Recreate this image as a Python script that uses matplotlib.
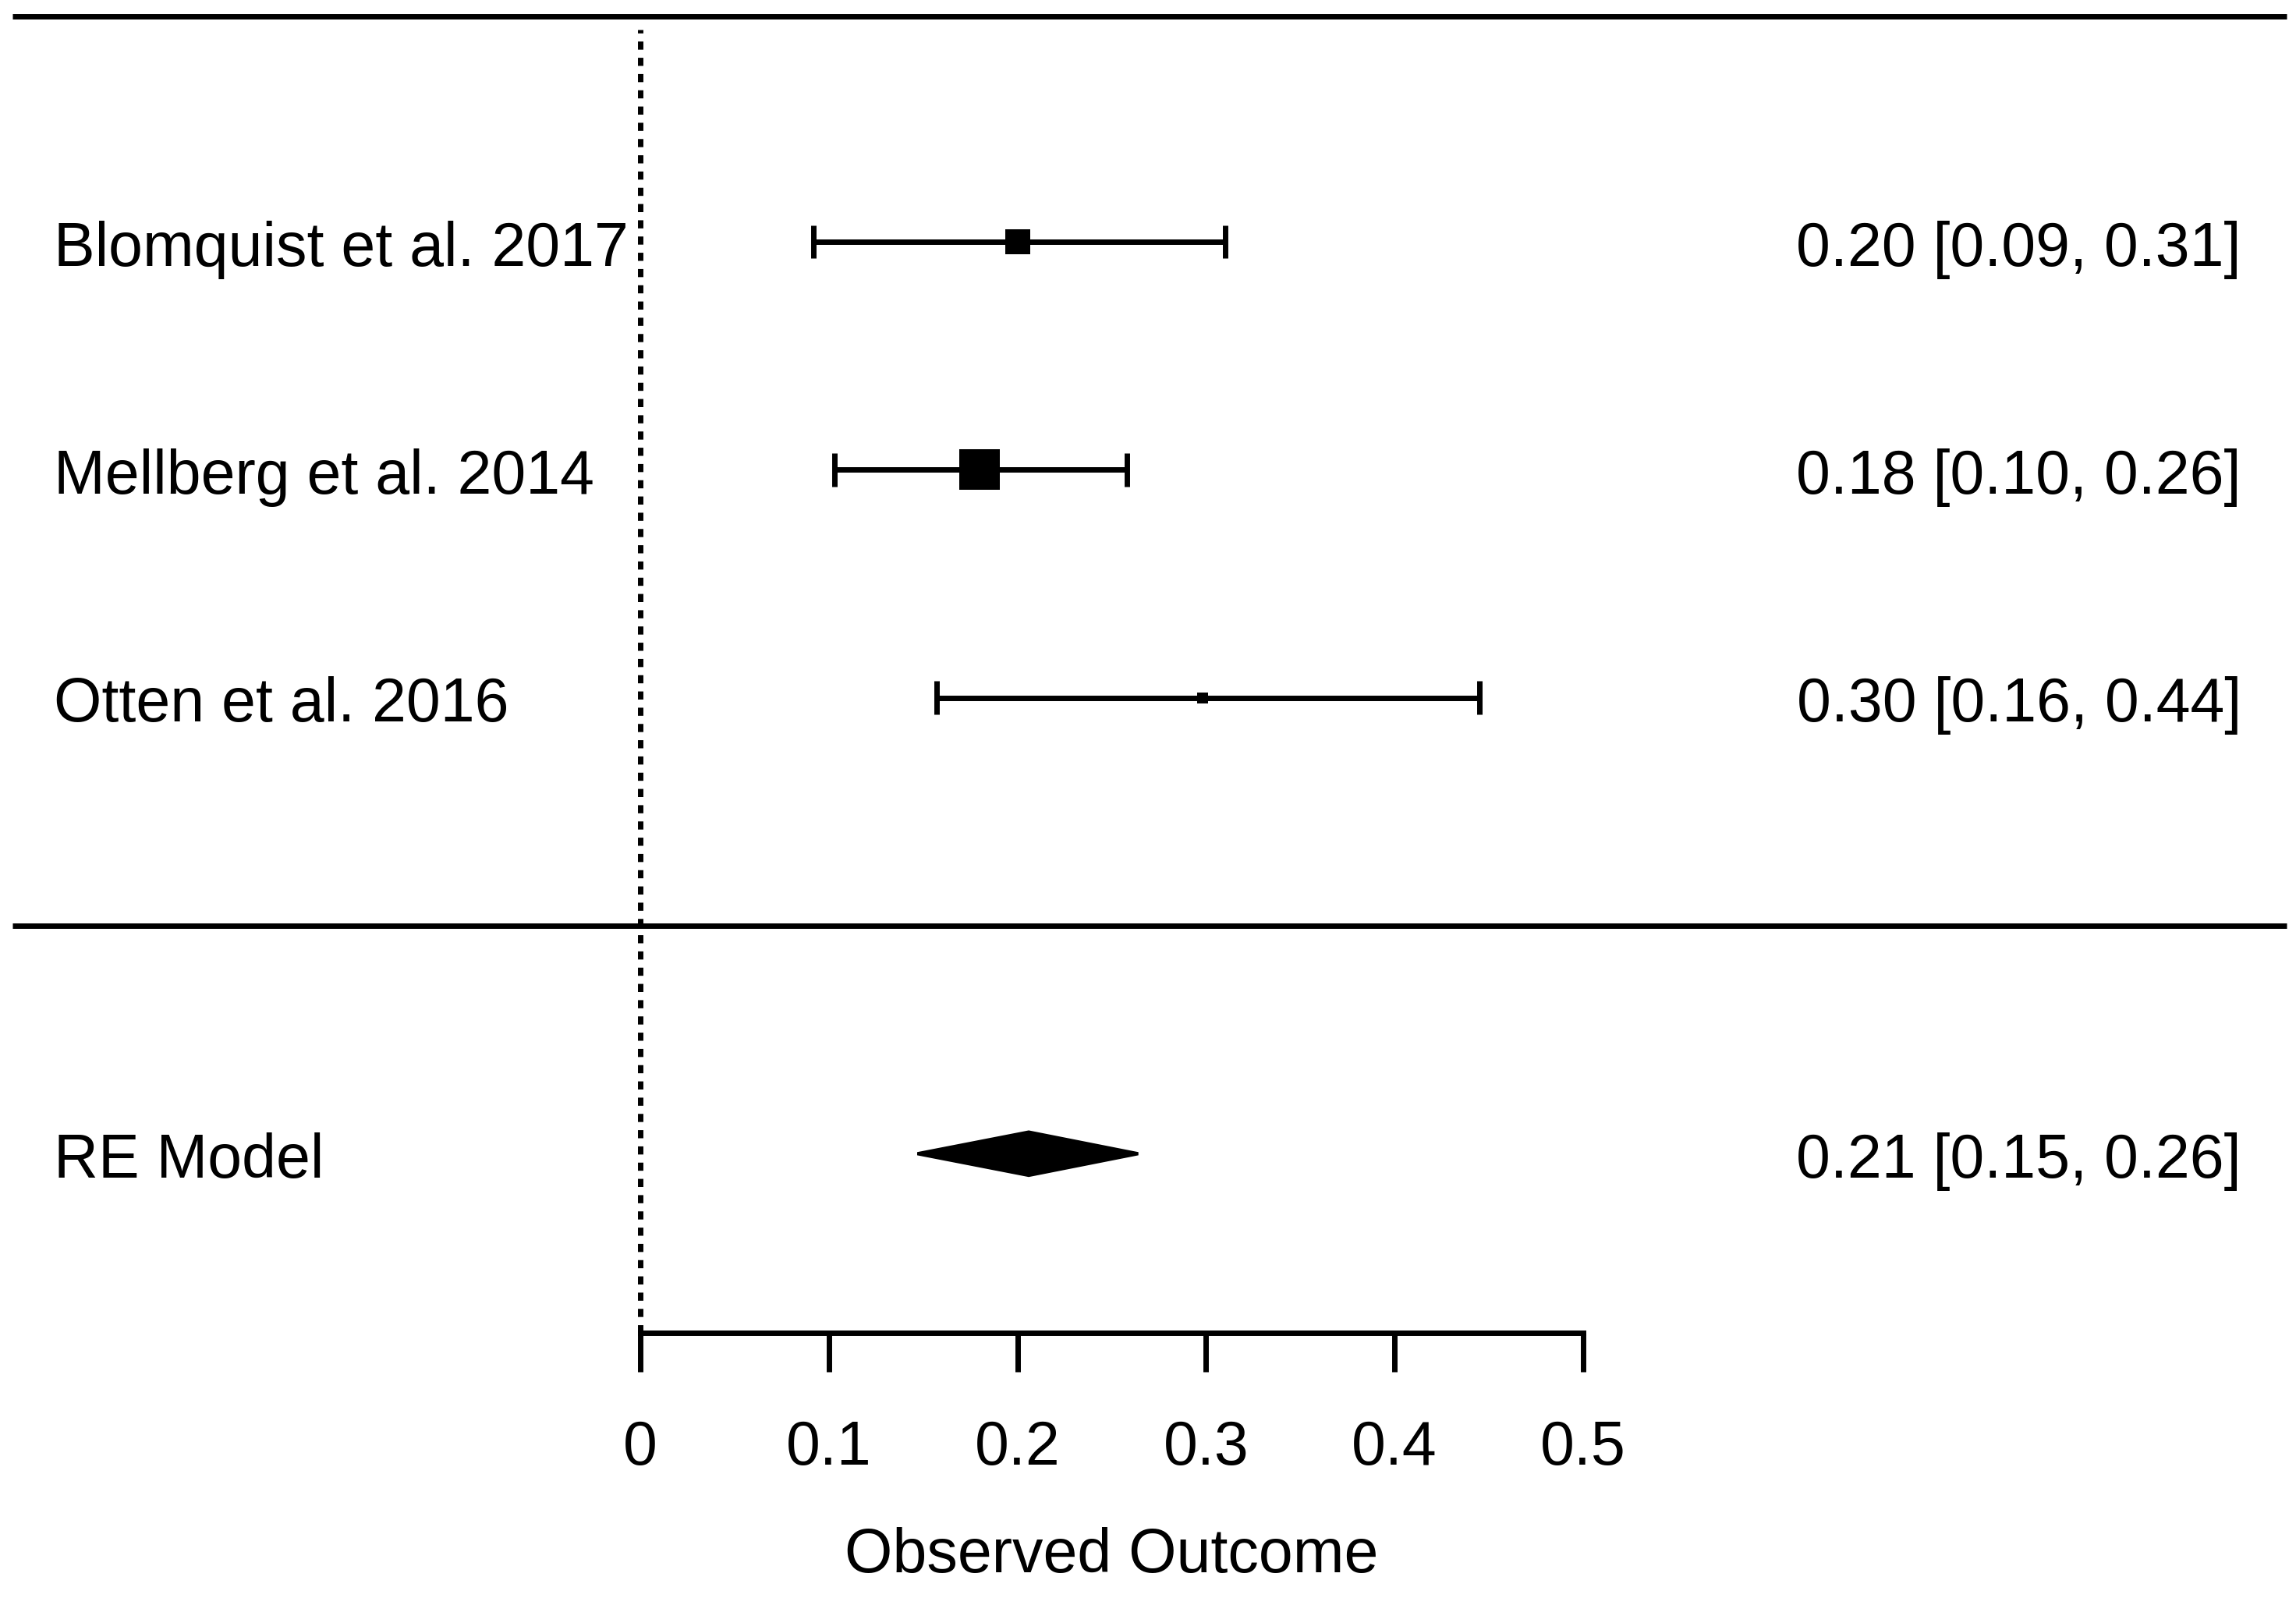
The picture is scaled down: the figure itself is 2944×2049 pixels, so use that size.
import matplotlib
matplotlib.use("Agg")
import matplotlib.pyplot as plt
from matplotlib.patches import Polygon

# ---- data ----
studies = ["Blomquist et al. 2017", "Mellberg et al. 2014", "Otten et al. 2016"]
rows = [3, 2, 1]
est = [0.200, 0.180, 0.298]
ci_lo = [0.092, 0.103, 0.157]
ci_hi = [0.310, 0.258, 0.4449]
marker_pt = [11.2, 18.4, 5.0]   # square size reflects study weight

re_label = "RE Model"
re_row = -1
re_est = 0.206
re_lo = 0.147
re_hi = 0.264

xticks = [0, 0.1, 0.2, 0.3, 0.4, 0.5]
xtick_labels = ["0", "0.1", "0.2", "0.3", "0.4", "0.5"]
xlabel = "Observed Outcome"

# ---- style ----
plt.rcParams["font.family"] = ["Liberation Sans", "DejaVu Sans"]
FS = 28.4
LW = 2.5
W, H, DPI = 2944, 2049, 200

fig = plt.figure(figsize=(W / DPI, H / DPI), dpi=DPI)
ax = fig.add_axes([0, 0, 1, 1])
ax.set_xlim(-0.3395, 0.878)
ax.set_ylim(-2.949, 4.061)

for s in ["top", "left", "right"]:
    ax.spines[s].set_visible(False)
ax.spines["bottom"].set_position(("data", -1.786))
ax.spines["bottom"].set_bounds(0, 0.5)
ax.spines["bottom"].set_linewidth(LW)
ax.set_yticks([])
ax.set_xticks(xticks)
ax.set_xticklabels(xtick_labels, fontsize=FS)
ax.tick_params(axis="x", direction="out", length=18, width=LW, pad=22)
ax.set_xlabel(xlabel, fontsize=FS)
ax.xaxis.set_label_coords(0.25, -2.765, transform=ax.transData)
ax.xaxis.label.set_va("center")

# frame lines
ax.plot([-0.333, 0.873], [3.99, 3.99], color="black", lw=LW, solid_capstyle="butt")
ax.plot([-0.333, 0.873], [0, 0], color="black", lw=LW, solid_capstyle="butt")
ax.plot([0, 0], [-1.786, 3.93], color="black", lw=LW, linestyle=(0, (1.5, 1.5)))

# studies
cap = 0.073
for r, e, lo, hi, m, name in zip(rows, est, ci_lo, ci_hi, marker_pt, studies):
    ax.plot([lo, hi], [r, r], color="black", lw=LW, solid_capstyle="butt")
    ax.plot([lo, lo], [r - cap, r + cap], color="black", lw=LW, solid_capstyle="butt")
    ax.plot([hi, hi], [r - cap, r + cap], color="black", lw=LW, solid_capstyle="butt")
    ax.plot([e], [r], marker="s", markersize=m, color="black", markeredgewidth=0)
    ax.text(-0.311, r - 0.105, name, fontsize=FS, ha="left", va="baseline")
    ax.text(0.849, r - 0.105, f"{e:.2f} [{lo:.2f}, {hi:.2f}]", fontsize=FS,
            ha="right", va="baseline")

# summary diamond
h = 0.095
ax.add_patch(Polygon([(re_lo, re_row), (re_est, re_row + h), (re_hi, re_row),
                      (re_est, re_row - h)], closed=True, facecolor="black",
                     edgecolor="black", lw=1.5))
ax.text(-0.311, re_row - 0.105, re_label, fontsize=FS, ha="left", va="baseline")
ax.text(0.849, re_row - 0.105, f"{re_est:.2f} [{re_lo:.2f}, {re_hi:.2f}]",
        fontsize=FS, ha="right", va="baseline")

fig.savefig("out.png", dpi=DPI, facecolor="white")
